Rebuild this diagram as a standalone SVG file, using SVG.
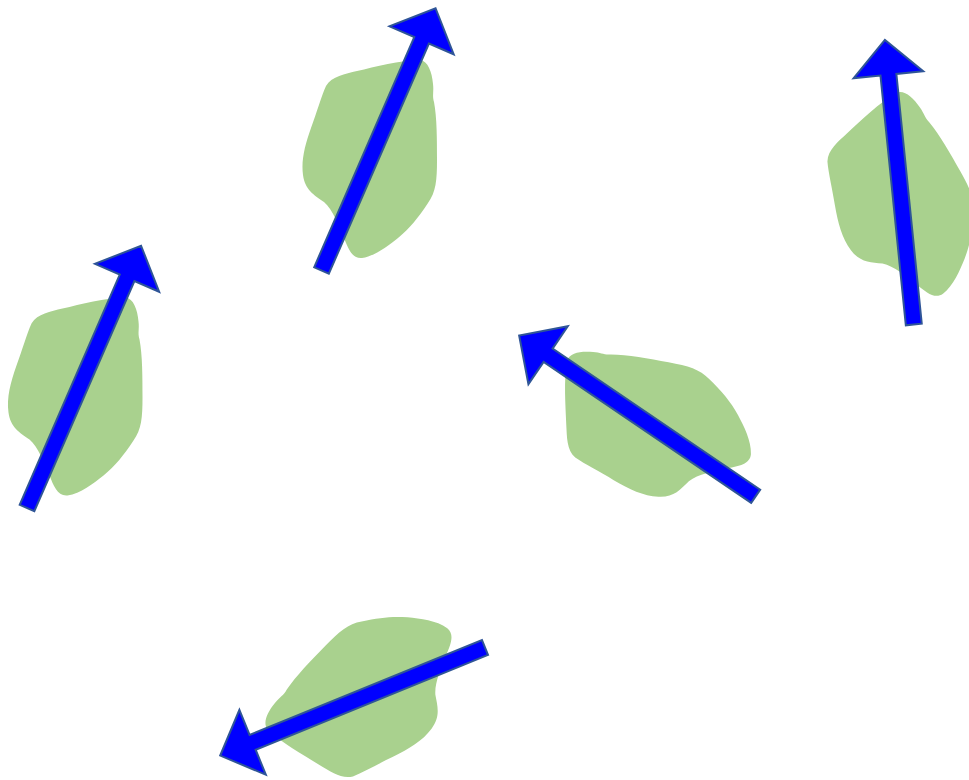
<svg xmlns="http://www.w3.org/2000/svg" xmlns:xlink="http://www.w3.org/1999/xlink" width="969" height="780" viewBox="0 0 969 780">
<style>
.blob{fill:#A9D18E;stroke:none}
.arrow{fill:#0000FF;stroke:#2F5597;stroke-width:2;stroke-linejoin:miter}
</style>
<defs>
<path id="blobPath" class="blob" d="M 420 60 C 428 61, 432 72, 433 84 C 434 92, 432 95, 434 102 C 437 118, 437 140, 437 160 C 437 180, 436 192, 428 203 C 418 218, 410 228, 398 238 C 388 246, 375 256, 362 258 C 352 259, 348 248, 344 238 C 338 224, 333 210, 324 202 C 314 195, 305 190, 303 175 C 301 160, 305 145, 311 128 C 317 112, 321 97, 326 86 C 332 76, 345 74, 357 71 C 375 67, 400 60, 420 60 Z"/>
<g id="leaf">
<use xlink:href="#blobPath" href="#blobPath" transform="rotate(66.5) translate(-321.5 -270.5)"/>
</g>
<polygon id="arrowShape" class="arrow" points="0,-8 251,-8 251,-35 286,0 251,35 251,8 0,8"/>
</defs>
<g id="node1" transform="translate(321.5 270.5) rotate(-66.5)">
<use xlink:href="#leaf" href="#leaf"/>
</g>
<g id="node2" transform="translate(27 508) rotate(-66.5)">
<use xlink:href="#leaf" href="#leaf"/>
</g>
<g id="node3" transform="translate(913.8 324.5) rotate(-95.8)">
<use xlink:href="#leaf" href="#leaf"/>
</g>
<g id="node4" transform="translate(755.7 496.3) rotate(-145.8)">
<use xlink:href="#leaf" href="#leaf"/>
</g>
<g id="node5" transform="translate(485 647.5) rotate(157.8)">
<use xlink:href="#leaf" href="#leaf"/>
</g>
<g id="connectors">
<use xlink:href="#arrowShape" href="#arrowShape" transform="translate(321.5 270.5) rotate(-66.5)"/>
<use xlink:href="#arrowShape" href="#arrowShape" transform="translate(27 508) rotate(-66.5)"/>
<use xlink:href="#arrowShape" href="#arrowShape" transform="translate(913.8 324.5) rotate(-95.8)"/>
<use xlink:href="#arrowShape" href="#arrowShape" transform="translate(755.7 496.3) rotate(-145.8)"/>
<use xlink:href="#arrowShape" href="#arrowShape" transform="translate(485 647.5) rotate(157.8)"/>
</g>
</svg>
